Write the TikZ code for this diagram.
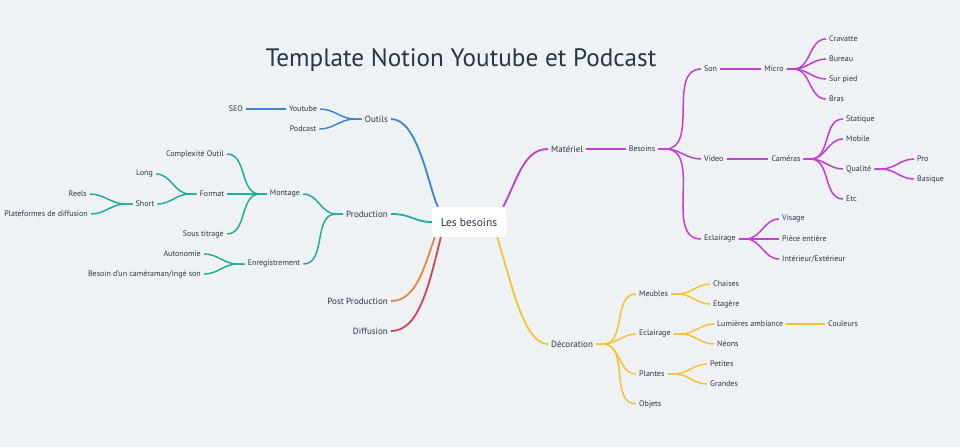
\documentclass[tikz,border=0pt]{standalone}
\usepackage{fontspec}
\setmainfont{PT Sans}
\definecolor{bg}{HTML}{EEF2F5}
\definecolor{ink}{HTML}{2A3644}
\definecolor{cblue}{HTML}{3A86D4}
\definecolor{cteal}{HTML}{1FAF96}
\definecolor{corange}{HTML}{E7873A}
\definecolor{cred}{HTML}{D8414E}
\definecolor{cpurple}{HTML}{C03ED2}
\definecolor{cyellow}{HTML}{F5C332}
\newcommand\Rlnk[3]{\draw[#1] (#2.east) -- ([xshift=7pt]#2.east) to[out=0,in=180] (#3.west);}
\newcommand\Llnk[3]{\draw[#1] (#2.east) to[out=0,in=180] ([xshift=-7pt]#3.west) -- (#3.west);}
\begin{document}
\begin{tikzpicture}[x=1pt,y=-1pt,
  lbl/.style={text=ink,font=\fontsize{8}{9}\selectfont,inner sep=3pt},
  lone/.style={text=ink,font=\fontsize{9}{10}\selectfont,inner sep=3pt},
  lk/.style={line width=1.5pt},
  mk/.style={line width=1.8pt}]
\fill[bg] (0,0) rectangle (960,447);
\useasboundingbox (0,0) rectangle (960,447);

\node[text=ink,font=\fontsize{25.2}{30}\selectfont] (title) at (461,60) {Template Notion Youtube et Podcast};

\node[fill=white,rounded corners=3pt,minimum width=74pt,minimum height=30pt,text=ink,font=\fontsize{11.5}{13}\selectfont] (root) at (469,222) {Les besoins};

% left side
\node[lone,anchor=east] (outils) at (391,119) {Outils};
\node[lbl] (youtube) at (303,109) {Youtube};
\node[lbl] (podcast) at (303,129) {Podcast};
\node[lbl,anchor=east] (seo) at (246,109) {SEO};
\node[lone,anchor=east] (production) at (391,214) {Production};
\node[lbl] (montage) at (285,194) {Montage};
\node[lbl] (enreg) at (274,264) {Enregistrement};
\node[lbl,anchor=east] (complexite) at (227,154) {Complexité Outil};
\node[lbl] (format) at (212,194) {Format};
\node[lbl,anchor=east] (sous) at (227,234) {Sous titrage};
\node[lbl,anchor=east] (long) at (156,174) {Long};
\node[lbl] (short) at (145,204) {Short};
\node[lbl,anchor=east] (reels) at (90,194) {Reels};
\node[lbl,anchor=east] (plateformes) at (91,214) {Plateformes de diffusion};
\node[lbl,anchor=east] (autonomie) at (204,254) {Autonomie};
\node[lbl,anchor=east] (besoin) at (204,274) {Besoin d'un caméraman/ingé son};
\node[lone,anchor=east] (post) at (391,301) {Post Production};
\node[lone,anchor=east] (diffusion) at (391,331) {Diffusion};

% right side
\node[lone,anchor=west] (materiel) at (548,149) {Matériel};
\node[lbl] (besoins) at (642,149) {Besoins};
\node[lbl,anchor=west] (son) at (701,69) {Son};
\node[lbl,anchor=west] (video) at (701,159) {Video};
\node[lbl,anchor=west] (eclr) at (701,239) {Eclairage};
\node[lbl] (micro) at (774,69) {Micro};
\node[lbl,anchor=west] (cravatte) at (826,39) {Cravatte};
\node[lbl,anchor=west] (bureau) at (826,59) {Bureau};
\node[lbl,anchor=west] (surpied) at (826,79) {Sur pied};
\node[lbl,anchor=west] (bras) at (826,99) {Bras};
\node[lbl] (cameras) at (786,159) {Caméras};
\node[lbl,anchor=west] (statique) at (843,119) {Statique};
\node[lbl,anchor=west] (mobile) at (843,139) {Mobile};
\node[lbl,anchor=west] (qualite) at (843,169) {Qualité};
\node[lbl,anchor=west] (etc) at (843,199) {Etc};
\node[lbl,anchor=west] (pro) at (914,159) {Pro};
\node[lbl,anchor=west] (basique) at (914,179) {Basique};
\node[lbl,anchor=west] (visage) at (779,219) {Visage};
\node[lbl,anchor=west] (piece) at (779,239) {Pièce entière};
\node[lbl,anchor=west] (interieur) at (779,259) {Intérieur/Extérieur};

\node[lone,anchor=west] (decoration) at (548,344) {Décoration};
\node[lbl,anchor=west] (meubles) at (636,294) {Meubles};
\node[lbl,anchor=west] (eclairage) at (636,334) {Eclairage};
\node[lbl,anchor=west] (plantes) at (636,374) {Plantes};
\node[lbl,anchor=west] (objets) at (636,404) {Objets};
\node[lbl,anchor=west] (chaises) at (710,284) {Chaises};
\node[lbl,anchor=west] (etagere) at (710,304) {Etagère};
\node[lbl,anchor=west] (lumieres) at (714,324) {Lumières ambiance};
\node[lbl,anchor=west] (neons) at (714,344) {Néons};
\node[lbl,anchor=west] (couleurs) at (825,324) {Couleurs};
\node[lbl,anchor=west] (petites) at (707,364) {Petites};
\node[lbl,anchor=west] (grandes) at (707,384) {Grandes};

% root connectors
\draw[mk,cblue] (outils.east) .. controls (418,119) and (428,185) .. ([xshift=6pt]root.north west);
\draw[mk,cteal] (production.east) .. controls (412,214) and (414,222) .. (root.west);
\draw[mk,corange] (post.east) .. controls (416,301) and (424,268) .. ([xshift=3pt]root.south west);
\draw[mk,cred] (diffusion.east) .. controls (418,331) and (428,290) .. ([xshift=9pt]root.south west);
\draw[mk,cpurple] ([xshift=-3pt]root.north east) .. controls (518,178) and (524,149) .. (materiel.west);
\draw[mk,cyellow] ([xshift=-9pt]root.south east) .. controls (512,285) and (524,344) .. (decoration.west);

% left links
\draw[lk,cblue] (seo.east) -- (youtube.west);
\Llnk{lk,cblue}{youtube}{outils}
\Llnk{lk,cblue}{podcast}{outils}
\Llnk{lk,cteal}{montage}{production}
\Llnk{lk,cteal}{enreg}{production}
\Llnk{lk,cteal}{complexite}{montage}
\Llnk{lk,cteal}{format}{montage}
\Llnk{lk,cteal}{sous}{montage}
\Llnk{lk,cteal}{long}{format}
\Llnk{lk,cteal}{short}{format}
\Llnk{lk,cteal}{reels}{short}
\Llnk{lk,cteal}{plateformes}{short}
\Llnk{lk,cteal}{autonomie}{enreg}
\Llnk{lk,cteal}{besoin}{enreg}

% right links
\draw[lk,cpurple] (materiel.east) -- (besoins.west);
\Rlnk{lk,cpurple}{besoins}{son}
\Rlnk{lk,cpurple}{besoins}{video}
\Rlnk{lk,cpurple}{besoins}{eclr}
\draw[lk,cpurple] (son.east) -- (micro.west);
\Rlnk{lk,cpurple}{micro}{cravatte}
\Rlnk{lk,cpurple}{micro}{bureau}
\Rlnk{lk,cpurple}{micro}{surpied}
\Rlnk{lk,cpurple}{micro}{bras}
\draw[lk,cpurple] (video.east) -- (cameras.west);
\Rlnk{lk,cpurple}{cameras}{statique}
\Rlnk{lk,cpurple}{cameras}{mobile}
\Rlnk{lk,cpurple}{cameras}{qualite}
\Rlnk{lk,cpurple}{cameras}{etc}
\Rlnk{lk,cpurple}{qualite}{pro}
\Rlnk{lk,cpurple}{qualite}{basique}
\Rlnk{lk,cpurple}{eclr}{visage}
\Rlnk{lk,cpurple}{eclr}{piece}
\Rlnk{lk,cpurple}{eclr}{interieur}

\Rlnk{lk,cyellow}{decoration}{meubles}
\Rlnk{lk,cyellow}{decoration}{eclairage}
\Rlnk{lk,cyellow}{decoration}{plantes}
\Rlnk{lk,cyellow}{decoration}{objets}
\Rlnk{lk,cyellow}{meubles}{chaises}
\Rlnk{lk,cyellow}{meubles}{etagere}
\Rlnk{lk,cyellow}{eclairage}{lumieres}
\Rlnk{lk,cyellow}{eclairage}{neons}
\draw[lk,cyellow] (lumieres.east) -- (couleurs.west);
\Rlnk{lk,cyellow}{plantes}{petites}
\Rlnk{lk,cyellow}{plantes}{grandes}
\end{tikzpicture}
\end{document}
